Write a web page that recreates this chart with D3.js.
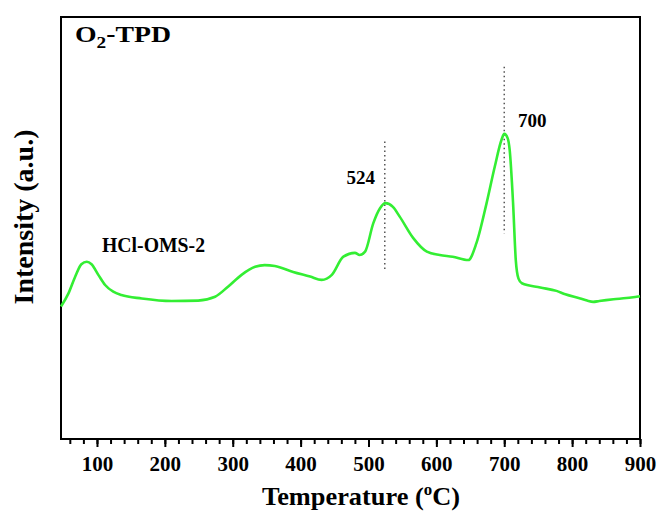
<!DOCTYPE html>
<html>
<head>
<meta charset="utf-8">
<script src="https://cdn.jsdelivr.net/npm/d3@7"></script>
<style>
    body { margin: 0; background: #fff; }
    svg text { font-family: "Liberation Serif", "DejaVu Serif", serif; font-weight: bold; fill: #000; }
</style>
</head>
<body>
<svg id="chart"></svg>
<script>
// Temperature (°C)
const temps = [47, 58, 68, 77, 85, 92, 102, 112, 124, 136, 166, 210, 249, 274, 293, 313,
    333, 347, 362, 389, 414, 431, 446, 463, 480, 487, 495, 507, 517, 525, 536, 546,
    566, 586, 605, 624, 647, 659, 674, 686, 696, 700, 705, 708, 713, 717, 721, 726, 753,
    777, 790, 812, 822, 831, 840, 850, 861, 880, 895, 900];
// Intensity (a.u.)
const intensity = [31.4, 34.5, 38.5, 41.4, 42.0, 41.4, 38.9, 36.5, 34.9, 34.1, 33.3, 32.7, 32.8, 33.7, 36.1, 38.9,
    40.8, 41.2, 41.0, 39.6, 38.5, 37.7, 38.9, 43.2, 44.1, 43.6, 44.4, 51.1, 54.7, 55.9, 55.0, 52.7,
    47.6, 44.4, 43.6, 43.2, 42.4, 46.4, 55.9, 64.5, 70.9, 72.3, 71.3, 68.5, 55.9, 42.4, 38.0, 36.9, 35.9,
    35.1, 34.3, 33.3, 32.8, 32.5, 32.7, 32.9, 33.1, 33.4, 33.7, 33.8];

const xTicks = [100, 200, 300, 400, 500, 600, 700, 800, 900];

// peak markers: temperature, label, dotted line top / bottom intensity
const peakTemps = [524, 700];
const peakLabels = ["524", "700"];
const peakTop = [70.5, 88.2];
const peakBottom = [39.7, 48.7];

const width = 660;
const height = 515;
const margin = {top: 17, right: 20, bottom: 76, left: 61};
const innerW = width - margin.left - margin.right;
const innerH = height - margin.top - margin.bottom;

const svg = d3.select("#chart")
    .attr("width", width)
    .attr("height", height);

const g = svg.append("g")
    .attr("transform", `translate(${margin.left},${margin.top})`);

const x = d3.scaleLinear().domain([47, 900]).range([0, innerW]);
const y = d3.scaleLinear().domain([0, 100]).range([innerH, 0]);

// minor ticks every 20
g.append("g")
    .attr("transform", `translate(0,${innerH})`)
    .call(d3.axisBottom(x).tickValues(d3.range(60, 901, 20)).tickSize(5).tickFormat(""))
    .call(a => a.select(".domain").remove())
    .call(a => a.selectAll("line").attr("stroke-width", 2));

// major ticks
const xAxis = g.append("g")
    .attr("transform", `translate(0,${innerH})`)
    .call(d3.axisBottom(x).tickValues(xTicks).tickSize(8).tickPadding(9).tickFormat(d3.format("d")));
xAxis.select(".domain").remove();
xAxis.selectAll("line").attr("stroke-width", 2);
xAxis.selectAll("text")
    .style("font-size", "21px")
    .style("font-family", "'Liberation Serif', serif")
    .style("font-weight", "bold");

// frame
g.append("rect")
    .attr("width", innerW)
    .attr("height", innerH)
    .attr("fill", "none")
    .attr("stroke", "#000")
    .attr("stroke-width", 2);

// dotted peak lines
g.selectAll(".peak-line")
    .data(peakTemps)
    .enter().append("line")
    .attr("class", "peak-line")
    .attr("x1", d => x(d))
    .attr("x2", d => x(d))
    .attr("y1", (d, i) => y(peakTop[i]))
    .attr("y2", (d, i) => y(peakBottom[i]))
    .attr("stroke", "#555")
    .attr("stroke-width", 1.5)
    .attr("stroke-dasharray", "1.5,3");

// trace
const data = temps.map((t, i) => ({t: t, v: intensity[i]}));
const line = d3.line()
    .x(d => x(d.t))
    .y(d => y(d.v))
    .curve(d3.curveMonotoneX);

g.append("path")
    .datum(data)
    .attr("fill", "none")
    .attr("stroke", "#33ee33")
    .attr("stroke-width", 2.6)
    .attr("stroke-linejoin", "round")
    .attr("d", line);

// peak labels
const labelDx = [-24, 28];
const labelDy = [43, 60];
g.selectAll(".peak-label")
    .data(peakTemps)
    .enter().append("text")
    .attr("class", "peak-label")
    .attr("x", (d, i) => x(d) + labelDx[i])
    .attr("y", (d, i) => y(peakTop[i]) + labelDy[i])
    .attr("text-anchor", "middle")
    .style("font-size", "19px")
    .text((d, i) => peakLabels[i]);

g.append("text")
    .attr("x", 41)
    .attr("y", 235)
    .style("font-size", "20px")
    .attr("textLength", 103)
    .attr("lengthAdjust", "spacingAndGlyphs")
    .text("HCl-OMS-2");

// title O2-TPD
const title = g.append("text")
    .attr("x", 14)
    .attr("y", 25)
    .style("font-size", "23px")
    .attr("textLength", 96)
    .attr("lengthAdjust", "spacingAndGlyphs");
title.append("tspan").text("O");
title.append("tspan").attr("dy", 6).style("font-size", "16px").text("2");
title.append("tspan").attr("dy", -6).text("-TPD");

// axis titles
const xt = svg.append("text")
    .attr("x", 262)
    .attr("y", 505)
    .style("font-size", "25px")
    .attr("textLength", 198)
    .attr("lengthAdjust", "spacingAndGlyphs");
xt.append("tspan").text("Temperature (");
xt.append("tspan").attr("dy", -10).style("font-size", "16px").text("o");
xt.append("tspan").attr("dy", 10).text("C)");

svg.append("text")
    .attr("transform", "translate(33,217) rotate(-90)")
    .attr("text-anchor", "middle")
    .style("font-size", "28px")
    .text("Intensity (a.u.)");
</script>
</body>
</html>
